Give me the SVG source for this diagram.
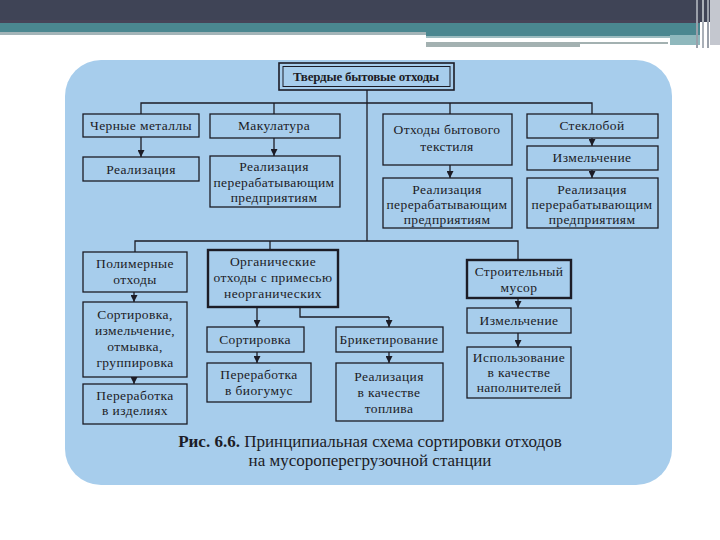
<svg xmlns="http://www.w3.org/2000/svg" width="720" height="540" viewBox="0 0 720 540">
<defs>
<marker id="ah" viewBox="0 0 10 10" refX="10" refY="5" markerWidth="7" markerHeight="7" markerUnits="userSpaceOnUse" orient="auto">
<path d="M0,0 L10,5 L0,10 z" fill="#1c1c26"/>
</marker>
<style>
.box{fill:none;stroke:#1c1c26;stroke-width:1.3}
.bold{fill:none;stroke:#1c1c26;stroke-width:2.4}
.t{font-family:"Liberation Serif","Times New Roman",serif;font-size:13.5px;fill:#1c1c26;text-anchor:middle;letter-spacing:0.4px}
.ln{fill:none;stroke:#1c1c26;stroke-width:1.3}
.arr{fill:none;stroke:#1c1c26;stroke-width:1.3;marker-end:url(#ah)}
.cap{font-family:"Liberation Serif","Times New Roman",serif;font-size:17px;fill:#1c1c26;text-anchor:middle}
</style>
</defs>
<rect width="720" height="540" fill="#ffffff"/>
<!-- top decoration -->
<rect x="0" y="0" width="720" height="22" fill="#3f4456"/>
<rect x="0" y="20" width="700" height="4" fill="#474458"/>
<rect x="0" y="23" width="700" height="10" fill="#4b8790"/>
<rect x="426" y="32" width="274" height="4" fill="#4b8790"/>
<rect x="0" y="32" width="426" height="3" fill="#a3b4b8"/>
<rect x="426" y="36" width="244" height="2" fill="#9cbcc0"/>
<rect x="426" y="42" width="242" height="2" fill="#a3b1b1"/>
<rect x="426" y="44" width="154" height="3" fill="#a3b1b1"/>
<rect x="670" y="35" width="30" height="10" fill="#8fb8bd"/>
<rect x="696" y="0" width="2" height="48" fill="#9aa0aa"/>
<rect x="702" y="0" width="2" height="48" fill="#aab0b8"/>
<rect x="707" y="0" width="2" height="48" fill="#9aa0aa"/>
<rect x="710" y="0" width="10" height="45" fill="#c4c7cf"/>
<!-- panel -->
<rect x="65" y="60" width="607" height="425" rx="36" ry="36" fill="#a7cdec"/>

<g id="connectors">
<path class="ln" d="M367,90 V241"/>
<path class="ln" d="M141,114 V103 H592 V114"/>
<path class="ln" d="M274,103 V114"/>
<path class="ln" d="M450,103 V114"/>
<path class="arr" d="M141,137 V157"/>
<path class="arr" d="M274,138 V156"/>
<path class="arr" d="M450,165 V178"/>
<path class="arr" d="M592,138 V146"/>
<path class="arr" d="M592,170 V178"/>
<path class="ln" d="M135,252 V241 H518 V260"/>
<path class="ln" d="M270,241 V250"/>
<path class="arr" d="M134,292 V302"/>
<path class="arr" d="M134,377 V384"/>
<path class="arr" d="M257,307 V327"/>
<path class="ln" d="M300,307 V317 H389"/>
<path class="arr" d="M389,317 V327"/>
<path class="arr" d="M257,352 V363"/>
<path class="arr" d="M389,352 V363"/>
<path class="arr" d="M518,298 V308"/>
<path class="arr" d="M518,333 V347"/>
</g>

<g id="n_title">
<rect x="279" y="63" width="175" height="27" fill="none" stroke="#1c1c26" stroke-width="1.6"/>
<rect x="283" y="66.5" width="167" height="20" fill="none" stroke="#1c1c26" stroke-width="1"/>
<text class="t" x="366" y="81" style="font-weight:bold;font-size:13px;letter-spacing:-0.2px">Твердые бытовые отходы</text>
</g>

<g id="n_metal">
<rect class="box" x="83" y="114" width="116" height="23"/>
<text class="t" x="141" y="130">Черные металлы</text>
</g>
<g id="n_metal_real">
<rect class="box" x="83" y="157" width="116" height="24"/>
<text class="t" x="141" y="174">Реализация</text>
</g>

<g id="n_makul">
<rect class="box" x="210" y="114" width="130" height="24"/>
<text class="t" x="274" y="130">Макулатура</text>
</g>
<g id="n_makul_real">
<rect class="box" x="210" y="156" width="130" height="51"/>
<text class="t" x="274" y="171">Реализация</text>
<text class="t" x="274" y="187">перерабатывающим</text>
<text class="t" x="274" y="202">предприятиям</text>
</g>

<g id="n_textile">
<rect class="box" x="383" y="114" width="129" height="51"/>
<text class="t" x="447" y="134">Отходы бытового</text>
<text class="t" x="447" y="151">текстиля</text>
</g>
<g id="n_textile_real">
<rect class="box" x="383" y="178" width="129" height="50"/>
<text class="t" x="447" y="194">Реализация</text>
<text class="t" x="447" y="209">перерабатывающим</text>
<text class="t" x="447" y="224">предприятиям</text>
</g>

<g id="n_glass">
<rect class="box" x="527" y="114" width="131" height="24"/>
<text class="t" x="592" y="130">Стеклобой</text>
</g>
<g id="n_glass_crush">
<rect class="box" x="527" y="146" width="131" height="24"/>
<text class="t" x="592" y="162">Измельчение</text>
</g>
<g id="n_glass_real">
<rect class="box" x="527" y="178" width="131" height="50"/>
<text class="t" x="592" y="194">Реализация</text>
<text class="t" x="592" y="209">перерабатывающим</text>
<text class="t" x="592" y="224">предприятиям</text>
</g>

<g id="n_polymer">
<rect class="box" x="83" y="252" width="104" height="40" stroke-width="1.8"/>
<text class="t" x="135" y="268">Полимерные</text>
<text class="t" x="135" y="284">отходы</text>
</g>
<g id="n_polymer_sort">
<rect class="box" x="83" y="302" width="104" height="75"/>
<text class="t" x="135" y="319">Сортировка,</text>
<text class="t" x="135" y="335">измельчение,</text>
<text class="t" x="135" y="351">отмывка,</text>
<text class="t" x="135" y="367">группировка</text>
</g>
<g id="n_polymer_proc">
<rect class="box" x="83" y="384" width="104" height="40"/>
<text class="t" x="135" y="400">Переработка</text>
<text class="t" x="135" y="415">в изделиях</text>
</g>

<g id="n_organic">
<rect class="bold" x="208" y="250" width="130" height="57"/>
<text class="t" x="273" y="266">Органические</text>
<text class="t" x="273" y="282">отходы с примесью</text>
<text class="t" x="273" y="298">неорганических</text>
</g>
<g id="n_org_sort">
<rect class="box" x="207" y="327" width="97" height="25"/>
<text class="t" x="255" y="344">Сортировка</text>
</g>
<g id="n_org_bio">
<rect class="box" x="207" y="363" width="104" height="39"/>
<text class="t" x="259" y="379">Переработка</text>
<text class="t" x="259" y="395">в биогумус</text>
</g>
<g id="n_briq">
<rect class="box" x="336" y="327" width="107" height="25"/>
<text class="t" x="389" y="344">Брикетирование</text>
</g>
<g id="n_briq_real">
<rect class="box" x="336" y="363" width="107" height="58"/>
<text class="t" x="389" y="381">Реализация</text>
<text class="t" x="389" y="397">в качестве</text>
<text class="t" x="389" y="413">топлива</text>
</g>

<g id="n_constr">
<rect class="bold" x="467" y="260" width="104" height="38"/>
<text class="t" x="519" y="276">Строительный</text>
<text class="t" x="519" y="292">мусор</text>
</g>
<g id="n_constr_crush">
<rect class="box" x="467" y="308" width="104" height="25"/>
<text class="t" x="519" y="325">Измельчение</text>
</g>
<g id="n_constr_use">
<rect class="box" x="467" y="347" width="104" height="51"/>
<text class="t" x="519" y="362">Использование</text>
<text class="t" x="519" y="377">в качестве</text>
<text class="t" x="519" y="392">наполнителей</text>
</g>

<g id="caption">
<text class="cap" x="370" y="447"><tspan font-weight="bold">Рис. 6.6.</tspan> Принципиальная схема сортировки отходов</text>
<text class="cap" x="370" y="466">на мусороперегрузочной станции</text>
</g>
</svg>
